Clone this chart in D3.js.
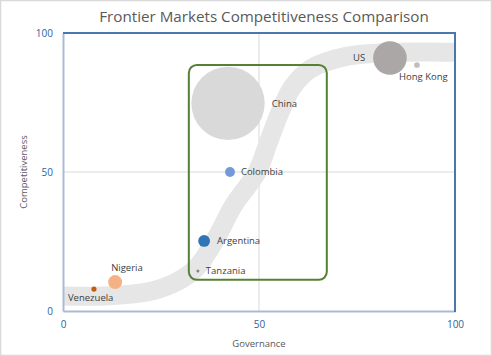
<!DOCTYPE html>
<html><head><meta charset="utf-8">
<script src="https://cdn.jsdelivr.net/npm/d3@7/dist/d3.min.js"></script>
<style>
html,body{margin:0;padding:0;background:#fff;}
svg{display:block;}
text{font-family:"Open Sans","Noto Sans",sans-serif;}
</style></head>
<body>
<svg id="chart" width="492" height="356"></svg>
<script>
// ---- data ----
const countries   = ["China","US","Colombia","Argentina","Nigeria","Hong Kong","Venezuela","Tanzania"];
const governance  = [42.1, 83.4, 42.6, 36.0, 13.3, 90.3, 7.9, 34.4];
const competitive = [74.7, 91.0, 50.0, 25.2, 10.4, 88.5, 7.9, 14.4];
const bubbleSize  = [100, 21, 1.8, 2.6, 3.6, 0.6, 0.5, 0.15];
const colors      = ["#d9d9d9","#aca7a7","#7399d9","#2e75b6","#f4b183","#bfbfbf","#c55a11","#7f8f6a"];
const xTicks = [0, 50, 100];
const yTicks = [0, 50, 100];
// grey trend band (governance, competitiveness)
const bandGov  = [-2, 12, 22, 29, 34, 39, 43.5, 49.5, 52.5, 55.5, 58.5, 63, 72, 85, 102];
const bandComp = [5.5, 5.5, 7, 10.5, 15.5, 26, 38, 50, 61, 72, 80.5, 87, 91.5, 93, 93];
// highlight box (governance range, competitiveness range)
const boxGov  = [32.1, 67.3];
const boxComp = [11.2, 88.5];

const W = 492, H = 356;
const m = {left: 63, right: 37, top: 33, bottom: 45};
const svg = d3.select("#chart");

svg.append("rect").attr("x",0.5).attr("y",0.5).attr("width",W-1).attr("height",H-1)
  .attr("fill","#fff").attr("stroke","#d9d9d9").attr("stroke-width",1.5);

const x = d3.scaleLinear().domain([0,100]).range([m.left, W-m.right]);
const y = d3.scaleLinear().domain([0,100]).range([H-m.bottom, m.top]);
const r = d3.scaleSqrt().domain([0,100]).range([0,36.7]);

svg.append("defs").append("clipPath").attr("id","clip").append("rect")
  .attr("x",x(0)).attr("y",y(100)).attr("width",x(100)-x(0)).attr("height",y(0)-y(100));

// gridlines
svg.append("g").selectAll("line").data([50]).join("line")
  .attr("x1",d=>x(d)).attr("x2",d=>x(d)).attr("y1",y(0)).attr("y2",y(100))
  .attr("stroke","#d9d9d9").attr("stroke-width",1);
svg.append("g").selectAll("line").data([50]).join("line")
  .attr("y1",d=>y(d)).attr("y2",d=>y(d)).attr("x1",x(0)).attr("x2",x(100))
  .attr("stroke","#d9d9d9").attr("stroke-width",1);

// band
const bandPts = bandGov.map((g,i)=>[x(g), y(bandComp[i])]);
svg.append("path").attr("clip-path","url(#clip)")
  .attr("d", d3.line().curve(d3.curveCatmullRom.alpha(0.5))(bandPts))
  .attr("fill","none").attr("stroke","#e6e6e6").attr("stroke-width",19);

// axes
const xAxis = d3.axisBottom(x).tickValues(xTicks).tickSize(0).tickPadding(10);
const yAxis = d3.axisLeft(y).tickValues(yTicks).tickSize(0).tickPadding(10);
const gx = svg.append("g").attr("transform",`translate(0,${y(0)})`).call(xAxis);
const gy = svg.append("g").attr("transform",`translate(${x(0)},0)`).call(yAxis);
[gx,gy].forEach(g=>{
  g.select(".domain").attr("stroke","#a9bbd3").attr("stroke-width",2);
  g.selectAll("text").attr("fill","#2e5f99").style("font-size","10px").style("font-family","Open Sans, sans-serif");
});
// top & right frame
svg.append("line").attr("x1",x(0)).attr("x2",x(100)+1).attr("y1",y(100)).attr("y2",y(100))
  .attr("stroke","#4a78ad").attr("stroke-width",2);
svg.append("line").attr("x1",x(100)).attr("x2",x(100)).attr("y1",y(100)).attr("y2",y(0)+1)
  .attr("stroke","#4a78ad").attr("stroke-width",2);

// green box
svg.append("rect").attr("x",x(boxGov[0])).attr("y",y(boxComp[1]))
  .attr("width",x(boxGov[1])-x(boxGov[0])).attr("height",y(boxComp[0])-y(boxComp[1]))
  .attr("rx",8).attr("fill","none").attr("stroke","#548235").attr("stroke-width",2);

// bubbles
const data = countries.map((c,i)=>({c, g:governance[i], v:competitive[i], s:bubbleSize[i], col:colors[i]}));
svg.append("g").selectAll("circle").data(data).join("circle")
  .attr("cx",d=>x(d.g)).attr("cy",d=>y(d.v)).attr("r",d=>Math.max(1.5, r(d.s)))
  .attr("fill",d=>d.col);

// labels (placement style)
const place = {
  "China":     {dx: 7,  dy: 0,  a:"start", rel:"right"},
  "US":        {dx: -8, dy: 0,  a:"end",   rel:"left"},
  "Colombia":  {dx: 6,  dy: 0,  a:"start", rel:"right"},
  "Argentina": {dx: 7,  dy: 0,  a:"start", rel:"right"},
  "Nigeria":   {dx: -4, dy: -14, a:"start", rel:"none"},
  "Hong Kong": {dx: -18,dy: 12, a:"start", rel:"none"},
  "Venezuela": {dx: -26,dy: 9,  a:"start", rel:"none"},
  "Tanzania":  {dx: 8,  dy: 0,  a:"start", rel:"none"}
};
svg.append("g").selectAll("text").data(data).join("text")
  .attr("x",d=>{const p=place[d.c]; const rr=Math.max(1.5,r(d.s));
     return x(d.g) + p.dx + (p.rel==="right"?rr:p.rel==="left"?-rr:0);})
  .attr("y",d=>y(d.v)+place[d.c].dy)
  .attr("dy","0.35em").attr("text-anchor",d=>place[d.c].a)
  .attr("fill","#404040").style("font-size","9.5px").text(d=>d.c);

// titles
svg.append("text").attr("x",264).attr("y",22).attr("text-anchor","middle")
  .attr("fill","#595959").style("font-size","15.2px").text("Frontier Markets Competitiveness Comparison");
svg.append("text").attr("x",x(50)).attr("y",347).attr("text-anchor","middle")
  .attr("fill","#595959").style("font-size","9.5px").text("Governance");
svg.append("text").attr("transform",`translate(27,${y(50)}) rotate(-90)`).attr("text-anchor","middle")
  .attr("fill","#595959").style("font-size","9.5px").text("Competitiveness");
</script>
</body></html>
